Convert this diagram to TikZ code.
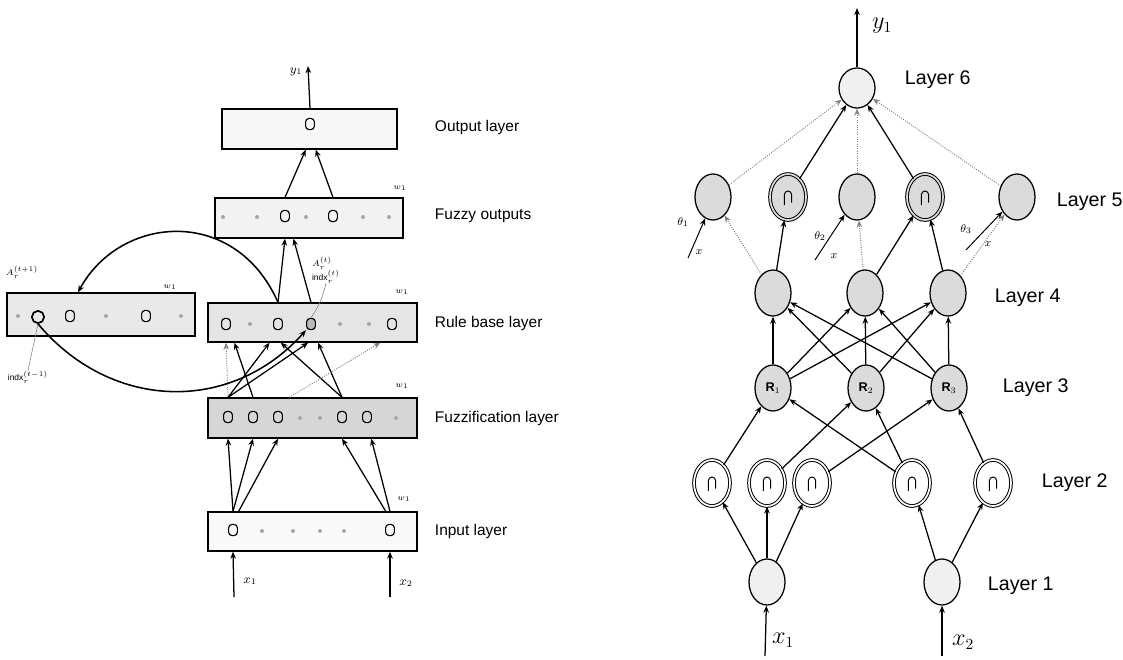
\documentclass[tikz,border=0pt]{standalone}
\usepackage{fontspec}
\setmainfont{Liberation Sans}
\usetikzlibrary{shapes.geometric}
\usetikzlibrary{arrows.meta}

\begin{document}
\begin{tikzpicture}[x=0.025cm, y=-0.025cm, >={Stealth[length=5pt,width=4pt]},
    layerbox/.style={draw, rectangle, line width=0.9pt, inner sep=0pt},
    cell/.style={draw, rectangle, rounded corners=2.5pt, minimum width=0.22cm, minimum height=0.28cm, inner sep=0pt, line width=0.8pt},
    smalldot/.style={circle, fill=gray!70, minimum size=0.1cm, inner sep=0pt},
    lbl/.style={font=\fontsize{11}{13}\selectfont, anchor=west},
    note/.style={font=\fontsize{6}{7}\selectfont, inner sep=0pt},
    bigl/.style={font=\fontsize{14}{16}\selectfont, anchor=west},
    nrn/.style={ellipse, draw, line width=0.9pt, minimum width=0.9cm, minimum height=1.15cm, inner sep=0pt, fill=gray!28},
    mf/.style={double=#1, double distance=1.2pt, line width=0.7pt,
      path picture={\draw[line width=0.7pt] ([shift={(-0.09cm,-0.2cm)}]path picture bounding box.center)
        -- ++(0,0.26cm) arc[start angle=180, end angle=0, radius=0.09cm] -- ++(0,-0.2cm);}},
    arr/.style={->, line width=0.9pt},
    faint/.style={->, densely dotted, gray, line width=0.7pt}]
  \useasboundingbox (0,0) rectangle (1123,659);

  % left: the layered boxes
  \node[layerbox, fill=gray!6, minimum width=4.375cm, minimum height=1cm] (outl) at (309.5,129) {};
  \node[layerbox, fill=gray!10, minimum width=4.7cm, minimum height=1cm] (fuzo) at (309,218) {};
  \node[layerbox, fill=gray!20, minimum width=5.225cm, minimum height=0.975cm] (rule) at (312.5,322.5) {};
  \node[layerbox, fill=gray!32, minimum width=5.225cm, minimum height=1cm] (fuzz) at (312.5,418) {};
  \node[layerbox, fill=gray!5, minimum width=5.225cm, minimum height=0.975cm] (inpl) at (312.5,531.5) {};
  \node[layerbox, fill=gray!17, minimum width=4.7cm, minimum height=1.075cm] (rnext) at (101,314.5) {};

  % units inside the boxes
  \node[cell] (ou) at (310,124) {};
  \node[smalldot] (fo1) at (223,217) {};
  \node[smalldot] (fo2) at (257,217) {};
  \node[cell] (fo3) at (285,216) {};
  \node[smalldot] (fo4) at (306,217) {};
  \node[cell] (fo5) at (333,216) {};
  \node[smalldot] (fo6) at (363,217) {};
  \node[smalldot] (fo7) at (389,217) {};
  \node[cell] (rb1) at (226,324) {};
  \node[smalldot] (rb2) at (250,324) {};
  \node[cell] (rb3) at (278,324) {};
  \node[cell, fill=gray!55] (rb4) at (311,324) {};
  \node[smalldot] (rb5) at (340,324) {};
  \node[smalldot] (rb6) at (369,324) {};
  \node[cell] (rb7) at (392,324) {};
  \node[cell] (fz1) at (228,417) {};
  \node[cell] (fz2) at (253,417) {};
  \node[cell] (fz3) at (278,417) {};
  \node[smalldot] (fz4) at (300,418) {};
  \node[smalldot] (fz5) at (320,418) {};
  \node[cell] (fz6) at (342,417) {};
  \node[cell] (fz7) at (367,417) {};
  \node[smalldot] (fz8) at (396,418) {};
  \node[cell] (in1) at (233,530) {};
  \foreach \x in {262,293,320,344}
    \node[smalldot] at (\x,531) {};
  \node[cell] (in6) at (390,530) {};
  \node[smalldot] (nx1) at (18,316) {};
  \node[cell, line width=1.2pt, rounded corners=4pt, minimum width=0.3cm, minimum height=0.3cm] (nx2) at (38,317) {};
  \node[cell] (nx3) at (70,316) {};
  \node[smalldot] (nx4) at (106,316) {};
  \node[cell] (nx5) at (146,316) {};
  \node[smalldot] (nx6) at (181,316) {};

  \node[lbl] at (430,127) {Output layer};
  \node[lbl] at (430,216) {Fuzzy outputs};
  \node[lbl] at (430,323) {Rule base layer};
  \node[lbl] at (430,418) {Fuzzification layer};
  \node[lbl] at (430,531) {Input layer};
  \foreach \x/\y in {400/188, 402/292, 402/386, 404/499, 170/287}
    \node[note] at (\x,\y) {$w_1$};
  \node[note] (anew) at (22,272) {$A_r^{(t+1)}$};
  \node[note] (iold) at (28,377) {indx$_r^{(t-1)}$};
  \node[note, align=left] (acur) at (326,270) {$A_r^{(t)}$\\indx$_r^{(t)}$};
  \draw[gray, thin] (acur.south) to[bend left=10] (rb4.north);
  \draw[gray, thin] (iold.north) -- (nx2.south);

  % inputs and output
  \coordinate (xa) at (234,597);
  \coordinate (xb) at (390,597);
  \coordinate (ya) at (308,66);
  \draw[arr] (xa) -- (in1 |- inpl.south);
  \draw[arr] (xb) -- (in6 |- inpl.south);
  \node[font=\small] at (250,581) {$x_1$};
  \node[font=\small] at (406,583) {$x_2$};
  \draw[arr] (ou |- outl.north) -- (ya);
  \node[font=\small] at (296,72) {$y_1$};

  % links between the boxes
  \draw[arr] (in1 |- inpl.north) -- (fz1 |- fuzz.south);
  \draw[arr] (in1 |- inpl.north) -- (fz2 |- fuzz.south);
  \draw[arr] ([xshift=4pt]in1 |- inpl.north) -- (fz3 |- fuzz.south);
  \draw[arr] ([xshift=-3pt]in6 |- inpl.north) -- (fz6 |- fuzz.south);
  \draw[arr] (in6 |- inpl.north) -- ([xshift=3pt]fz7 |- fuzz.south);
  \draw[faint] (fz1 |- fuzz.north) -- (rb1 |- rule.south);
  \draw[arr] (fz1 |- fuzz.north) -- ([xshift=-6pt]rb3 |- rule.south);
  \draw[arr] (fz1 |- fuzz.north) -- ([xshift=-2pt]rb4 |- rule.south);
  \draw[arr] (fz2 |- fuzz.north) -- ([xshift=6pt]rb1 |- rule.south);
  \draw[arr] (fz6 |- fuzz.north) -- ([xshift=2pt]rb3 |- rule.south);
  \draw[arr] (fz6 |- fuzz.north) -- ([xshift=5pt]rb4 |- rule.south);
  \draw[faint] ([xshift=8pt]fz3 |- fuzz.north) -- ([xshift=8pt]rb6 |- rule.south);
  \draw[arr] (rb3 |- rule.north) -- (fo3 |- fuzo.south);
  \draw[arr] (rb4 |- rule.north) -- ([xshift=6pt]fo3 |- fuzo.south);
  \draw[arr] (fo3 |- fuzo.north) -- ([xshift=-3pt]ou |- outl.south);
  \draw[arr] (fo5 |- fuzo.north) -- ([xshift=4pt]ou |- outl.south);

  % rule base handed to the next step
  \draw[arr, line width=1.1pt] (rb3 |- rule.north) .. controls (235,205) and (120,215) .. ([xshift=-0.7cm]nx4 |- rnext.north);
  \draw[arr, line width=1.1pt] (nx2.south) .. controls (110,410) and (230,415) .. (rb4.south west);

  % right: six layer network
  \node[nrn, fill=gray!12, minimum height=1cm] (l6) at (857,88) {};
  \node[nrn] (l5a) at (713,197) {};
  \node[nrn, mf=gray!28] (l5b) at (788,197) {};
  \node[nrn] (l5c) at (857,197) {};
  \node[nrn, mf=gray!28] (l5d) at (925,197) {};
  \node[nrn] (l5e) at (1017,197) {};
  \node[nrn] (l4a) at (773,293) {};
  \node[nrn] (l4b) at (865,293) {};
  \node[nrn] (l4c) at (948,293) {};
  \node[nrn, font=\fontsize{9}{10}\selectfont\bfseries] (r1) at (773,388) {R$_1$};
  \node[nrn, font=\fontsize{9}{10}\selectfont\bfseries] (r2) at (866,388) {R$_2$};
  \node[nrn, font=\fontsize{9}{10}\selectfont\bfseries] (r3) at (949,388) {R$_3$};
  \node[nrn, fill=white, mf=white] (l2a) at (712,483) {};
  \node[nrn, fill=white, mf=white] (l2b) at (767,483) {};
  \node[nrn, fill=white, mf=white] (l2c) at (812,483) {};
  \node[nrn, fill=white, mf=white] (l2d) at (912,483) {};
  \node[nrn, fill=white, mf=white] (l2e) at (993,483) {};
  \node[nrn, fill=gray!12] (l1a) at (767,582) {};
  \node[nrn, fill=gray!12] (l1b) at (942,582) {};

  \node[bigl] at (900,80) {Layer 6};
  \node[bigl] at (1052,202) {Layer 5};
  \node[bigl] at (990,298) {Layer 4};
  \node[bigl] at (998,388) {Layer 3};
  \node[bigl] at (1037,483) {Layer 2};
  \node[bigl] at (983,586) {Layer 1};

  \coordinate (yo) at (857,8);
  \coordinate (xc) at (765,656);
  \coordinate (xd) at (942,656);
  \draw[arr] (l6) -- (yo);
  \node[font=\fontsize{16}{18}\selectfont] at (882,26) {$y_1$};
  \draw[arr] (xc) -- (l1a);
  \draw[arr] (xd) -- (l1b);
  \node[font=\fontsize{16}{18}\selectfont] at (783,640) {$x_1$};
  \node[font=\fontsize{16}{18}\selectfont] at (963,642) {$x_2$};

  % layer 5 to layer 6
  \draw[faint] (l5a) -- (l6);
  \draw[arr] (l5b) -- (l6);
  \draw[faint] (l5c) -- (l6);
  \draw[arr] (l5d) -- (l6);
  \draw[faint] (l5e) -- (l6);
  % layer 4 to layer 5
  \draw[faint] (l4a) -- (l5a);
  \draw[arr] (l4a) -- (l5b);
  \draw[faint] (l4b) -- (l5c);
  \draw[arr] (l4b) -- (l5d);
  \draw[arr] (l4c) -- (l5d);
  \draw[faint] (l4c) -- (l5e);
  % consequent parameters
  \coordinate (t1) at (688,258);
  \coordinate (t2) at (815,260);
  \coordinate (t3) at (966,250);
  \draw[arr, line width=0.7pt] (t1) -- (l5a.250);
  \draw[arr, line width=0.7pt] (t2) -- (l5c.235);
  \draw[arr, line width=0.7pt] (t3) -- (l5e.225);
  \node[note, font=\fontsize{8}{9}\selectfont] at (683,222) {$\theta_1$};
  \node[note, font=\fontsize{8}{9}\selectfont] at (820,236) {$\theta_2$};
  \node[note, font=\fontsize{8}{9}\selectfont] at (966,229) {$\theta_3$};
  \node[note, font=\fontsize{8}{9}\selectfont] at (699,252) {$x$};
  \node[note, font=\fontsize{8}{9}\selectfont] at (834,256) {$x$};
  \node[note, font=\fontsize{8}{9}\selectfont] at (988,244) {$x$};
  % layer 3 to layer 4
  \foreach \r in {r1,r2,r3}
    \foreach \n in {l4a,l4b,l4c}
      \draw[arr] (\r) -- (\n);
  % layer 2 to layer 3
  \draw[arr] (l2a) -- (r1);
  \draw[arr] (l2b) -- (r2);
  \draw[arr] (l2c) -- (r3);
  \draw[arr] (l2d) -- (r1);
  \draw[arr] (l2d) -- (r2);
  \draw[arr] (l2e) -- (r3);
  % layer 1 to layer 2
  \draw[arr] (l1a) -- (l2a);
  \draw[arr] (l1a) -- (l2b);
  \draw[arr] (l1a) -- (l2c);
  \draw[arr] (l1b) -- (l2d);
  \draw[arr] (l1b) -- (l2e);
\end{tikzpicture}
\end{document}
